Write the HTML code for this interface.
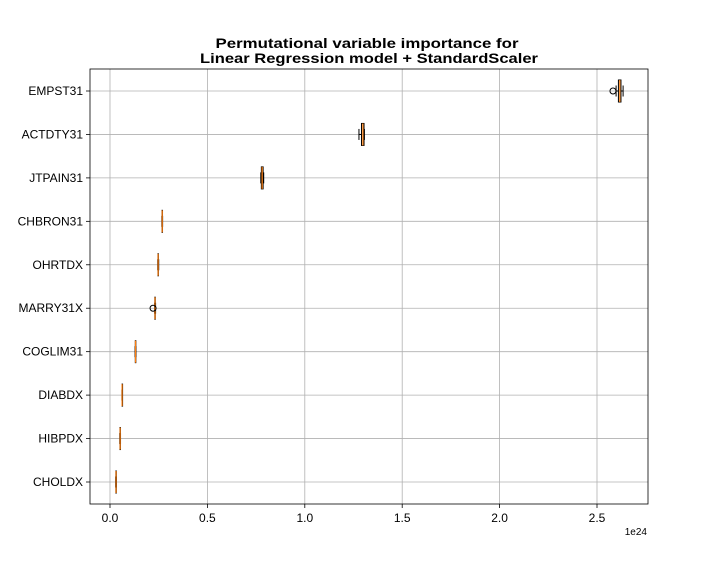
<!DOCTYPE html>
<html><head><meta charset="utf-8"><style>
body{margin:0;background:#fff;width:720px;height:576px;overflow:hidden;font-family:"Liberation Sans","DejaVu Sans",sans-serif}
</style></head><body>
<svg id="chart" width="720" height="576" xmlns="http://www.w3.org/2000/svg" font-family="Liberation Sans, DejaVu Sans, sans-serif">
<text x="367" y="48" text-anchor="middle" font-size="14" font-weight="bold" textLength="303" lengthAdjust="spacingAndGlyphs">Permutational variable importance for</text>
<text x="369" y="63" text-anchor="middle" font-size="14" font-weight="bold" textLength="338" lengthAdjust="spacingAndGlyphs">Linear Regression model + StandardScaler</text>
<g id="grid"></g><g id="marks"></g><g id="axes"></g>
<text x="647" y="535" text-anchor="end" font-size="10">1e24</text>
</svg>
<script>
const categories=["CHOLDX","HIBPDX","DIABDX","COGLIM31","MARRY31X","OHRTDX","CHBRON31","JTPAIN31","ACTDTY31","EMPST31"];
const whiskerLo=[0.029,0.050,0.061,0.129,0.229,0.245,0.266,0.774,1.278,2.598];
const q1Vals=[0.030,0.051,0.062,0.130,0.230,0.246,0.267,0.777,1.291,2.610];
const medians=[0.031,0.052,0.062,0.131,0.231,0.247,0.268,0.781,1.298,2.617];
const q3Vals=[0.032,0.053,0.063,0.132,0.232,0.248,0.269,0.786,1.304,2.623];
const whiskerHi=[0.033,0.054,0.064,0.133,0.234,0.250,0.270,0.789,1.306,2.634];
const fliers=[[],[],[],[],[0.221],[],[],[],[],[2.582]];
const xTicks=[0,0.5,1.0,1.5,2.0,2.5];
const xTickLabels=["0.0","0.5","1.0","1.5","2.0","2.5"];

const L=90,R=648,T=69,B=504;
const X=v=>110+v*194.8;
const Y=i=>482-i*(482-91)/9;
const ns="http://www.w3.org/2000/svg";
function el(p,t,a){const e=document.createElementNS(ns,t);for(const k in a)e.setAttribute(k,a[k]);p.appendChild(e);return e;}
const grid=document.getElementById('grid'),marks=document.getElementById('marks'),axes=document.getElementById('axes');
xTicks.forEach((v,i)=>{
 const g=el(grid,'line',{x1:X(v),x2:X(v),y1:T,y2:B,stroke:'#b0b0b0','stroke-width':0.8});
 
 
 el(axes,'line',{x1:X(v),x2:X(v),y1:B,y2:B+4,stroke:'#000','stroke-width':0.8});
 const t=el(axes,'text',{x:X(v),y:B+18,'text-anchor':'middle','font-size':12});
 t.textContent=xTickLabels[i];
 
 
});
categories.forEach((c,i)=>{
 const y=Y(i);
 const g=el(grid,'line',{x1:L,x2:R,y1:y,y2:y,stroke:'#b0b0b0','stroke-width':0.8});
 
 
 el(axes,'line',{x1:L-4,x2:L,y1:y,y2:y,stroke:'#000','stroke-width':0.8});
 const t=el(axes,'text',{x:L-7,y:y+4,'text-anchor':'end','font-size':12});
 t.textContent=c;
 
 
 const h=11,cap=5.5;
 const grp=el(marks,'g',{});
 
 
 el(grp,'line',{x1:X(whiskerLo[i]),x2:X(q1Vals[i]),y1:y,y2:y,stroke:'#000','stroke-width':1});
 el(grp,'line',{x1:X(q3Vals[i]),x2:X(whiskerHi[i]),y1:y,y2:y,stroke:'#000','stroke-width':1});
 el(grp,'line',{x1:X(whiskerLo[i]),x2:X(whiskerLo[i]),y1:y-cap,y2:y+cap,stroke:'#000','stroke-width':1});
 el(grp,'line',{x1:X(whiskerHi[i]),x2:X(whiskerHi[i]),y1:y-cap,y2:y+cap,stroke:'#000','stroke-width':1});
 el(grp,'rect',{x:X(q1Vals[i]),y:y-h,width:Math.max(X(q3Vals[i])-X(q1Vals[i]),0.5),height:2*h,fill:'none',stroke:'#000','stroke-width':1});
 el(grp,'line',{x1:X(medians[i]),x2:X(medians[i]),y1:y-h,y2:y+h,stroke:'#ff7f0e','stroke-width':1.2});
 fliers[i].forEach(f=>{
  const c2=el(grp,'circle',{cx:X(f),cy:y,r:3,fill:'none',stroke:'#000','stroke-width':1});
  
  
 });
});
const fr=el(axes,'rect',{x:L,y:T,width:R-L,height:B-T,fill:'none',stroke:'#000','stroke-width':0.8});


</script>
</body></html>
